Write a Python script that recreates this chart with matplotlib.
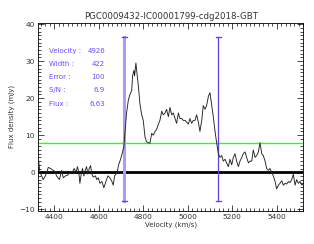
import matplotlib
matplotlib.use("Agg")
import matplotlib.pyplot as plt
from matplotlib.ticker import MultipleLocator

velocity = [4328, 4335, 4343, 4350, 4360, 4373, 4383, 4395, 4403, 4410, 4423, 4433, 4440,
            4450, 4460, 4470, 4483, 4489, 4498, 4504, 4510, 4515, 4521, 4527, 4533, 4539,
            4545, 4551, 4557, 4563, 4569, 4575, 4585, 4591, 4598, 4605, 4614, 4623, 4632,
            4641, 4650, 4659, 4665, 4671, 4677, 4683, 4689, 4698, 4707, 4713, 4718, 4725,
            4733, 4740, 4748, 4752, 4758, 4761, 4767, 4773, 4777, 4785, 4793, 4800, 4808,
            4815, 4823, 4830, 4838, 4845, 4853, 4860, 4868, 4875, 4883, 4890, 4898, 4905,
            4913, 4920, 4928, 4935, 4943, 4950, 4958, 4965, 4973, 4980, 4988, 4995, 5003,
            5010, 5018, 5025, 5033, 5040, 5048, 5055, 5063, 5070, 5078, 5085, 5093, 5100,
            5108, 5115, 5123, 5130, 5138, 5145, 5153, 5160, 5168, 5175, 5183, 5190, 5198,
            5205, 5213, 5220, 5228, 5235, 5243, 5250, 5258, 5265, 5273, 5280, 5288, 5295,
            5303, 5310, 5318, 5325, 5333, 5340, 5348, 5355, 5363, 5370, 5378, 5385, 5393,
            5400, 5408, 5415, 5423, 5430, 5438, 5445, 5453, 5460, 5468, 5475, 5483, 5490,
            5498, 5505, 5513, 5520]
flux = [4.0, 0.0, -1.0, -2.0, -1.0, 1.3, 1.0, 0.5, 0.2, -1.0, -2.0, 0.5, -1.5,
        -1.0, -0.8, 0.0, 0.2, 1.0, 0.0, 1.5, 0.0, -3.0, -0.5, 1.0, -1.0, 0.5,
        1.5, -0.5, 1.0, 1.8, -0.5, -1.3, -1.0, -2.0, -1.5, -3.0, -2.5, -4.2, -2.5,
        -1.0, -1.5, -2.5, -3.5, -1.0, -0.5, 0.0, 2.0, 3.5, 5.5, 7.0, 11.0, 16.0,
        19.5, 21.0, 22.0, 26.0, 27.5, 26.0, 29.5, 26.0, 24.0, 18.5, 15.5, 14.0, 9.5,
        8.2, 8.0, 7.8, 10.5, 10.0, 11.0, 11.5, 13.0, 14.0, 16.5, 15.5, 16.0, 17.0,
        15.0, 17.5, 15.5, 16.0, 14.5, 13.2, 16.0, 14.5, 14.5, 14.0, 14.0, 13.5, 13.0,
        14.5, 13.2, 14.0, 14.0, 15.5, 13.5, 11.0, 14.0, 18.0, 17.0, 18.0, 20.5, 21.5,
        18.0, 15.0, 11.0, 8.0, 5.0, 4.0, 4.5, 3.0, 3.5, 2.5, 1.5, 3.5, 2.0,
        4.0, 5.0, 3.0, 1.5, 3.0, 4.0, 5.0, 5.5, 4.0, 2.5, 3.0, 3.0, 6.0,
        4.0, 4.5, 5.5, 8.0, 5.0, 4.5, 3.0, 1.0, 0.5, 1.0, 0.0, -1.0, -2.5,
        -4.5, -3.5, -3.0, -2.3, -3.5, -3.0, -3.2, -2.5, -2.8, -2.0, -0.5, -3.5, -2.0,
        -3.0, -2.5, -3.5, -3.0]

title = "PGC0009432-IC00001799-cdg2018-GBT"
labels = ["Velocity :", "Width :", "Error :", "S/N :", "Flux :"]
values = ["4926", "422", "100", "6.9", "6.63"]
v_center = 4926
w50 = 422
rms_level = 7.9
marker_top = 36.5
marker_bottom = -7.8

fig = plt.figure(figsize=(3.14, 2.44), dpi=100)
ax = fig.add_axes([0.122, 0.1365, 0.844, 0.7705])

txtcol = "#6a4cff"
v_lo = v_center - w50 / 2
v_hi = v_center + w50 / 2

ax.axhline(0, color="black", lw=2.0, zorder=2)
ax.axhline(rms_level, color="#22ff22", lw=1.0, zorder=2)
ax.plot([v_lo, v_lo], [marker_bottom, marker_top], color="#ab9cf4", lw=2.2, zorder=3)
ax.plot([v_hi, v_hi], [marker_bottom, marker_top], color="#5a44e8", lw=0.9, zorder=3)
for v in (v_lo, v_hi):
    ax.plot([v - 12, v + 12], [marker_top, marker_top], color="#5a44e8", lw=0.9, zorder=4)
    ax.plot([v - 12, v + 12], [marker_bottom, marker_bottom], color="#5a44e8", lw=0.9, zorder=4)
ax.plot(velocity, flux, color="#222222", lw=0.65, zorder=5)

ax.set_xlim(4328, 5520)
ax.set_ylim(-10.4, 40.4)
ax.xaxis.set_major_locator(MultipleLocator(200))
ax.xaxis.set_minor_locator(MultipleLocator(20))
ax.yaxis.set_major_locator(MultipleLocator(10))
ax.yaxis.set_minor_locator(MultipleLocator(1))
ax.tick_params(which="both", direction="in", top=True, right=True, labelsize=5.3,
               width=0.5, pad=2.5, labelcolor="#333333")
ax.tick_params(which="major", length=4)
ax.tick_params(which="minor", length=2)
for s in ax.spines.values():
    s.set_linewidth(0.6)

ax.set_xlabel("Velocity (km/s)", fontsize=5.0, labelpad=1, color="#333333")
ax.set_ylabel("Flux density (mJy)", fontsize=5.0, labelpad=3, color="#333333")
ax.set_title(title, fontsize=6.2, pad=3, color="#333333")

rows = [0.851, 0.782, 0.711, 0.642, 0.569]
for lab, val, yy in zip(labels, values, rows):
    ax.text(0.040, yy, lab, transform=ax.transAxes, color=txtcol, fontsize=5,
            va="center", ha="left")
    ax.text(0.252, yy, val, transform=ax.transAxes, color=txtcol, fontsize=5,
            va="center", ha="right")

fig.savefig("out.png", dpi=100)
